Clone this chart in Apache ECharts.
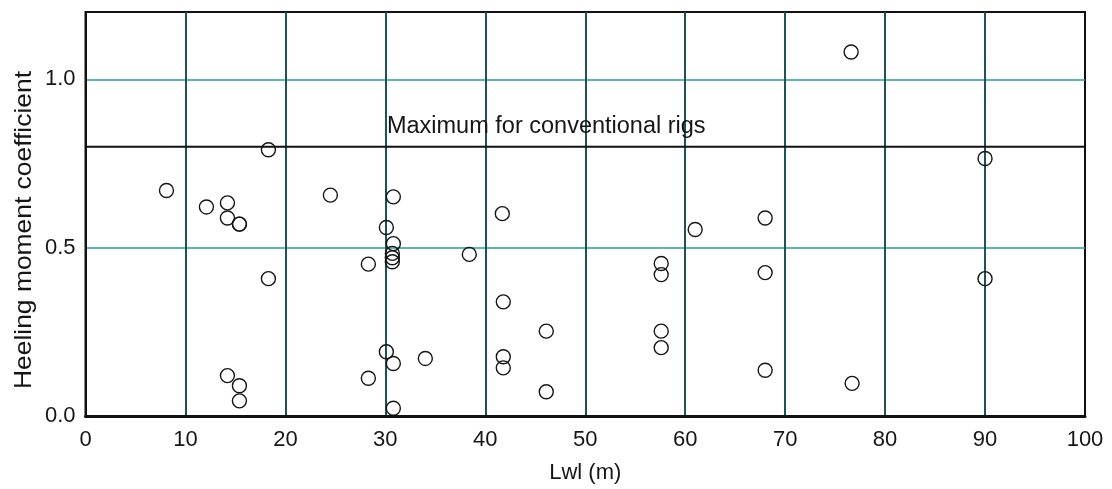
<!DOCTYPE html>
<html>
<head>
<meta charset="utf-8">
<script src="https://cdn.jsdelivr.net/npm/echarts@6/dist/echarts.min.js"></script>
<style>
html,body{margin:0;padding:0;background:#fff;}
#chart{width:1112px;height:489px;}
</style>
</head>
<body>
<div id="chart"></div>
<script>
// Lwl (m) of each vessel
const lwl = [8.1, 12.1, 14.2, 14.2, 15.4, 15.4, 18.3, 24.5, 30.8, 30.1, 30.8, 30.7, 30.7, 30.7,
  41.7, 61.0, 68.0, 76.6, 90.0, 18.3, 14.2, 15.4, 15.4, 28.3, 28.3, 30.1, 30.8, 30.8,
  38.4, 41.8, 46.1, 34.0, 41.8, 41.8, 46.1, 57.6, 57.6, 57.6, 57.6, 68.0, 68.0, 90.0, 76.7];
// Heeling moment coefficient of each vessel
const heel = [0.670, 0.621, 0.633, 0.588, 0.570, 0.570, 0.791, 0.656, 0.651, 0.560, 0.512, 0.483, 0.470, 0.458,
  0.601, 0.554, 0.588, 1.081, 0.765, 0.408, 0.120, 0.090, 0.045, 0.451, 0.112, 0.191, 0.156, 0.023,
  0.480, 0.339, 0.252, 0.171, 0.176, 0.143, 0.072, 0.453, 0.420, 0.252, 0.203, 0.426, 0.136, 0.408, 0.097];

const threshold = 0.8;
const thresholdText = 'Maximum for conventional rigs';
const thresholdTextAt = 46.1;

const xName = 'Lwl (m)';
const yName = 'Heeling moment coefficient';
const xTicks = [0, 10, 20, 30, 40, 50, 60, 70, 80, 90, 100];
const yTicks = [0.0, 0.5, 1.0];

const points = lwl.map((x, i) => [x, heel[i]]);
const FONT = '"Liberation Sans", Arial, sans-serif';
const TXT = '#161616';

const chart = echarts.init(document.getElementById('chart'), null, {renderer: 'canvas'});
chart.setOption({
  animation: false,
  backgroundColor: '#fff',
  grid: {left: 85.5, right: 27, top: 12, bottom: 73, show: true, borderColor: '#111', borderWidth: 2, backgroundColor: 'transparent'},
  xAxis: {
    type: 'value', min: xTicks[0], max: xTicks[xTicks.length - 1], interval: 10,
    name: xName, nameLocation: 'middle', nameGap: 46,
    nameTextStyle: {fontFamily: FONT, fontSize: 22, color: TXT},
    axisLine: {show: true, onZero: false, lineStyle: {color: '#111', width: 3}},
    axisTick: {show: false},
    axisLabel: {fontFamily: FONT, fontSize: 22, color: TXT, margin: 13},
    splitLine: {show: true, showMinLine: false, showMaxLine: false, lineStyle: {color: '#1d5258', width: 2}}
  },
  yAxis: {
    type: 'value', min: 0, max: 1.2, interval: 0.5,
    axisLine: {show: true, lineStyle: {color: '#111', width: 2}},
    axisTick: {show: false},
    axisLabel: {fontFamily: FONT, fontSize: 22, color: TXT, margin: 10,
      formatter: v => yTicks.some(t => Math.abs(t - v) < 1e-9) ? v.toFixed(1) : ''},
    splitLine: {show: true, showMinLine: false, showMaxLine: false, lineStyle: {color: '#2e9a9c', width: 1.6}}
  },
  graphic: [{
    type: 'text', x: 24, y: 230, rotation: Math.PI / 2, scaleX: 1.1,
    style: {text: yName, fontFamily: FONT, fontSize: 24, fill: TXT, align: 'center', verticalAlign: 'middle'}
  }],
  series: [
    {
      type: 'line', data: [[xTicks[0], threshold], [xTicks[xTicks.length - 1], threshold]],
      symbol: 'none', lineStyle: {color: '#111', width: 2}, silent: true, z: 3
    },
    {
      type: 'scatter', data: [[thresholdTextAt, threshold]], symbolSize: 0,
      itemStyle: {opacity: 1},
      label: {show: true, position: 'top', distance: 8, formatter: thresholdText,
        fontFamily: FONT, fontSize: 23.5, color: TXT}, z: 4
    },
    {
      type: 'scatter', data: points, symbol: 'circle', symbolSize: 14,
      itemStyle: {color: 'transparent', borderColor: '#151515', borderWidth: 1.4, opacity: 1}, z: 5
    }
  ]
});
</script>
</body>
</html>
